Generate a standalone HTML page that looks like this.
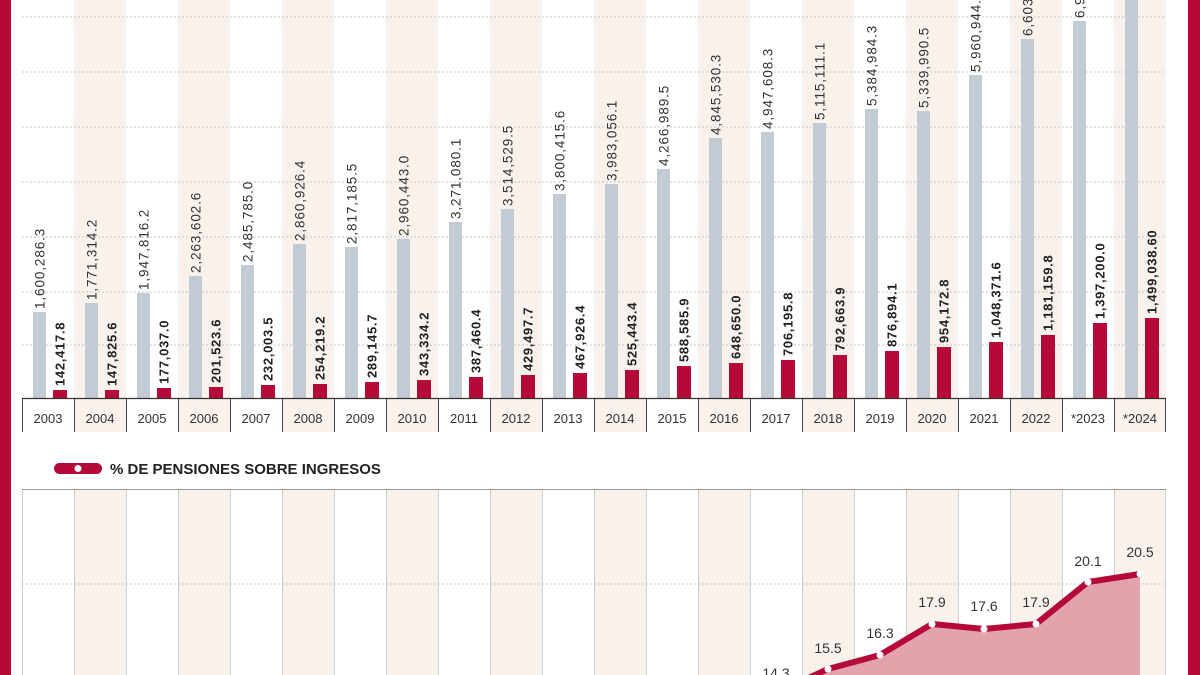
<!DOCTYPE html>
<html><head><meta charset="utf-8"><style>
html,body{margin:0;padding:0;background:#fff;}
svg{display:block;font-family:"Liberation Sans",sans-serif;}
</style></head><body>
<svg width="1200" height="675" viewBox="0 0 1200 675" xmlns="http://www.w3.org/2000/svg">
<rect width="1200" height="675" fill="#fff"/>
<g fill="#f8f1ec">
<rect x="74" y="0" width="52" height="432"/><rect x="178" y="0" width="52" height="432"/><rect x="282" y="0" width="52" height="432"/><rect x="386" y="0" width="52" height="432"/><rect x="490" y="0" width="52" height="432"/><rect x="594" y="0" width="52" height="432"/><rect x="698" y="0" width="52" height="432"/><rect x="802" y="0" width="52" height="432"/><rect x="906" y="0" width="52" height="432"/><rect x="1010" y="0" width="52" height="432"/><rect x="1114" y="0" width="52" height="432"/>
</g>
<g stroke="#c8c8c8" stroke-width="1" stroke-dasharray="2,2">
<line x1="22" y1="17" x2="1166" y2="17"/><line x1="22" y1="72" x2="1166" y2="72"/><line x1="22" y1="127" x2="1166" y2="127"/><line x1="22" y1="182" x2="1166" y2="182"/><line x1="22" y1="237" x2="1166" y2="237"/><line x1="22" y1="292" x2="1166" y2="292"/><line x1="22" y1="345" x2="1166" y2="345"/>
</g>
<g fill="#c2cad3">
<rect x="33" y="312" width="13" height="86"/><rect x="85" y="303" width="13" height="95"/><rect x="137" y="293" width="13" height="105"/><rect x="189" y="276" width="13" height="122"/><rect x="241" y="265" width="13" height="133"/><rect x="293" y="244" width="13" height="154"/><rect x="345" y="247" width="13" height="151"/><rect x="397" y="239" width="13" height="159"/><rect x="449" y="222" width="13" height="176"/><rect x="501" y="209" width="13" height="189"/><rect x="553" y="194" width="13" height="204"/><rect x="605" y="184" width="13" height="214"/><rect x="657" y="169" width="13" height="229"/><rect x="709" y="138" width="13" height="260"/><rect x="761" y="132" width="13" height="266"/><rect x="813" y="123" width="13" height="275"/><rect x="865" y="109" width="13" height="289"/><rect x="917" y="111" width="13" height="287"/><rect x="969" y="75" width="13" height="323"/><rect x="1021" y="39" width="13" height="359"/><rect x="1073" y="21" width="13" height="377"/><rect x="1125" y="0" width="13" height="398"/>
</g>
<g fill="#b5093a">
<rect x="53" y="390" width="14" height="8"/><rect x="105" y="390" width="14" height="8"/><rect x="157" y="388" width="14" height="10"/><rect x="209" y="387" width="14" height="11"/><rect x="261" y="385" width="14" height="13"/><rect x="313" y="384" width="14" height="14"/><rect x="365" y="382" width="14" height="16"/><rect x="417" y="380" width="14" height="18"/><rect x="469" y="377" width="14" height="21"/><rect x="521" y="375" width="14" height="23"/><rect x="573" y="373" width="14" height="25"/><rect x="625" y="370" width="14" height="28"/><rect x="677" y="366" width="14" height="32"/><rect x="729" y="363" width="14" height="35"/><rect x="781" y="360" width="14" height="38"/><rect x="833" y="355" width="14" height="43"/><rect x="885" y="351" width="14" height="47"/><rect x="937" y="347" width="14" height="51"/><rect x="989" y="342" width="14" height="56"/><rect x="1041" y="335" width="14" height="63"/><rect x="1093" y="323" width="14" height="75"/><rect x="1145" y="318" width="14" height="80"/>
</g>
<g font-size="13.5" fill="#333" letter-spacing="0.9">
<text transform="translate(44.5,309) rotate(-90)">1,600,286.3</text>
<text transform="translate(96.5,300) rotate(-90)">1,771,314.2</text>
<text transform="translate(148.5,290) rotate(-90)">1,947,816.2</text>
<text transform="translate(200.5,273) rotate(-90)">2,263,602.6</text>
<text transform="translate(252.5,262) rotate(-90)">2,485,785.0</text>
<text transform="translate(304.5,241) rotate(-90)">2,860,926.4</text>
<text transform="translate(356.5,244) rotate(-90)">2,817,185.5</text>
<text transform="translate(408.5,236) rotate(-90)">2,960,443.0</text>
<text transform="translate(460.5,219) rotate(-90)">3,271,080.1</text>
<text transform="translate(512.5,206) rotate(-90)">3,514,529.5</text>
<text transform="translate(564.5,191) rotate(-90)">3,800,415.6</text>
<text transform="translate(616.5,181) rotate(-90)">3,983,056.1</text>
<text transform="translate(668.5,166) rotate(-90)">4,266,989.5</text>
<text transform="translate(720.5,135) rotate(-90)">4,845,530.3</text>
<text transform="translate(772.5,129) rotate(-90)">4,947,608.3</text>
<text transform="translate(824.5,120) rotate(-90)">5,115,111.1</text>
<text transform="translate(876.5,106) rotate(-90)">5,384,984.3</text>
<text transform="translate(928.5,108) rotate(-90)">5,339,990.5</text>
<text transform="translate(980.5,72) rotate(-90)">5,960,944.2</text>
<text transform="translate(1032.5,36) rotate(-90)">6,603,245.1</text>
<text transform="translate(1084.5,18) rotate(-90)">6,950,000.0</text>
</g>
<g font-size="13" font-weight="bold" fill="#222" letter-spacing="0.7">
<text transform="translate(64.5,386) rotate(-90)">142,417.8</text>
<text transform="translate(116.5,386) rotate(-90)">147,825.6</text>
<text transform="translate(168.5,384) rotate(-90)">177,037.0</text>
<text transform="translate(220.5,383) rotate(-90)">201,523.6</text>
<text transform="translate(272.5,381) rotate(-90)">232,003.5</text>
<text transform="translate(324.5,380) rotate(-90)">254,219.2</text>
<text transform="translate(376.5,378) rotate(-90)">289,145.7</text>
<text transform="translate(428.5,376) rotate(-90)">343,334.2</text>
<text transform="translate(480.5,373) rotate(-90)">387,460.4</text>
<text transform="translate(532.5,371) rotate(-90)">429,497.7</text>
<text transform="translate(584.5,369) rotate(-90)">467,926.4</text>
<text transform="translate(636.5,366) rotate(-90)">525,443.4</text>
<text transform="translate(688.5,362) rotate(-90)">588,585.9</text>
<text transform="translate(740.5,359) rotate(-90)">648,650.0</text>
<text transform="translate(792.5,356) rotate(-90)">706,195.8</text>
<text transform="translate(844.5,351) rotate(-90)">792,663.9</text>
<text transform="translate(896.5,347) rotate(-90)">876,894.1</text>
<text transform="translate(948.5,343) rotate(-90)">954,172.8</text>
<text transform="translate(1000.5,338) rotate(-90)">1,048,371.6</text>
<text transform="translate(1052.5,331) rotate(-90)">1,181,159.8</text>
<text transform="translate(1104.5,319) rotate(-90)">1,397,200.0</text>
<text transform="translate(1156.5,314) rotate(-90)">1,499,038.60</text>
</g>
<line x1="22" y1="398.5" x2="1166" y2="398.5" stroke="#333" stroke-width="1.2"/>
<g stroke="#444" stroke-width="1">
<line x1="22.5" y1="399" x2="22.5" y2="432"/><line x1="74.5" y1="399" x2="74.5" y2="432"/><line x1="126.5" y1="399" x2="126.5" y2="432"/><line x1="178.5" y1="399" x2="178.5" y2="432"/><line x1="230.5" y1="399" x2="230.5" y2="432"/><line x1="282.5" y1="399" x2="282.5" y2="432"/><line x1="334.5" y1="399" x2="334.5" y2="432"/><line x1="386.5" y1="399" x2="386.5" y2="432"/><line x1="438.5" y1="399" x2="438.5" y2="432"/><line x1="490.5" y1="399" x2="490.5" y2="432"/><line x1="542.5" y1="399" x2="542.5" y2="432"/><line x1="594.5" y1="399" x2="594.5" y2="432"/><line x1="646.5" y1="399" x2="646.5" y2="432"/><line x1="698.5" y1="399" x2="698.5" y2="432"/><line x1="750.5" y1="399" x2="750.5" y2="432"/><line x1="802.5" y1="399" x2="802.5" y2="432"/><line x1="854.5" y1="399" x2="854.5" y2="432"/><line x1="906.5" y1="399" x2="906.5" y2="432"/><line x1="958.5" y1="399" x2="958.5" y2="432"/><line x1="1010.5" y1="399" x2="1010.5" y2="432"/><line x1="1062.5" y1="399" x2="1062.5" y2="432"/><line x1="1114.5" y1="399" x2="1114.5" y2="432"/><line x1="1165.5" y1="399" x2="1165.5" y2="432"/>
</g>
<g font-size="13" fill="#333" text-anchor="middle">
<text x="48" y="423">2003</text><text x="100" y="423">2004</text><text x="152" y="423">2005</text><text x="204" y="423">2006</text><text x="256" y="423">2007</text><text x="308" y="423">2008</text><text x="360" y="423">2009</text><text x="412" y="423">2010</text><text x="464" y="423">2011</text><text x="516" y="423">2012</text><text x="568" y="423">2013</text><text x="620" y="423">2014</text><text x="672" y="423">2015</text><text x="724" y="423">2016</text><text x="776" y="423">2017</text><text x="828" y="423">2018</text><text x="880" y="423">2019</text><text x="932" y="423">2020</text><text x="984" y="423">2021</text><text x="1036" y="423">2022</text><text x="1088" y="423">*2023</text><text x="1140" y="423">*2024</text>
</g>
<rect x="54" y="463" width="48" height="11" rx="5.5" fill="#b5093a"/>
<circle cx="78" cy="468.5" r="3.5" fill="#fff"/>
<text x="110" y="474" font-size="15" font-weight="bold" fill="#222">% DE PENSIONES SOBRE INGRESOS</text>
<g fill="#f8f1ec">
<rect x="74" y="490" width="52" height="185"/><rect x="178" y="490" width="52" height="185"/><rect x="282" y="490" width="52" height="185"/><rect x="386" y="490" width="52" height="185"/><rect x="490" y="490" width="52" height="185"/><rect x="594" y="490" width="52" height="185"/><rect x="698" y="490" width="52" height="185"/><rect x="802" y="490" width="52" height="185"/><rect x="906" y="490" width="52" height="185"/><rect x="1010" y="490" width="52" height="185"/><rect x="1114" y="490" width="52" height="185"/>
</g>
<line x1="22" y1="489.5" x2="1166" y2="489.5" stroke="#999" stroke-width="1"/>
<g stroke="#cfcfcf" stroke-width="1">
<line x1="22.5" y1="490" x2="22.5" y2="675"/><line x1="74.5" y1="490" x2="74.5" y2="675"/><line x1="126.5" y1="490" x2="126.5" y2="675"/><line x1="178.5" y1="490" x2="178.5" y2="675"/><line x1="230.5" y1="490" x2="230.5" y2="675"/><line x1="282.5" y1="490" x2="282.5" y2="675"/><line x1="334.5" y1="490" x2="334.5" y2="675"/><line x1="386.5" y1="490" x2="386.5" y2="675"/><line x1="438.5" y1="490" x2="438.5" y2="675"/><line x1="490.5" y1="490" x2="490.5" y2="675"/><line x1="542.5" y1="490" x2="542.5" y2="675"/><line x1="594.5" y1="490" x2="594.5" y2="675"/><line x1="646.5" y1="490" x2="646.5" y2="675"/><line x1="698.5" y1="490" x2="698.5" y2="675"/><line x1="750.5" y1="490" x2="750.5" y2="675"/><line x1="802.5" y1="490" x2="802.5" y2="675"/><line x1="854.5" y1="490" x2="854.5" y2="675"/><line x1="906.5" y1="490" x2="906.5" y2="675"/><line x1="958.5" y1="490" x2="958.5" y2="675"/><line x1="1010.5" y1="490" x2="1010.5" y2="675"/><line x1="1062.5" y1="490" x2="1062.5" y2="675"/><line x1="1114.5" y1="490" x2="1114.5" y2="675"/><line x1="1165.5" y1="490" x2="1165.5" y2="675"/>
</g>
<line x1="22" y1="584" x2="1166" y2="584" stroke="#c8c8c8" stroke-dasharray="2,2"/>
<polygon points="724,706 776,693 828,669 880,655 932,624 984,629 1036,624 1088,582 1140,574 1140,675 700,675" fill="#e3a3ad"/>
<polyline points="672,703 724,706 776,693 828,669 880,655 932,624 984,629 1036,624 1088,582 1140,574" fill="none" stroke="#b5093a" stroke-width="6" stroke-linejoin="round" stroke-linecap="round"/>
<g fill="#fff">
<circle cx="828" cy="669" r="3.5"/><circle cx="880" cy="655" r="3.5"/><circle cx="932" cy="624" r="3.5"/><circle cx="984" cy="629" r="3.5"/><circle cx="1036" cy="624" r="3.5"/><circle cx="1088" cy="582" r="3.5"/><circle cx="1140" cy="574" r="3.5"/>
</g>
<g font-size="14" fill="#333" text-anchor="middle">
<text x="672" y="685">13.8</text><text x="776" y="678">14.3</text><text x="828" y="653">15.5</text><text x="880" y="638">16.3</text><text x="932" y="607">17.9</text><text x="984" y="611">17.6</text><text x="1036" y="607">17.9</text><text x="1088" y="566">20.1</text><text x="1140" y="557">20.5</text>
</g>
<rect x="0" y="0" width="11" height="675" fill="#b80838"/>
<rect x="1188" y="0" width="12" height="675" fill="#b80838"/>
</svg>
</body></html>
